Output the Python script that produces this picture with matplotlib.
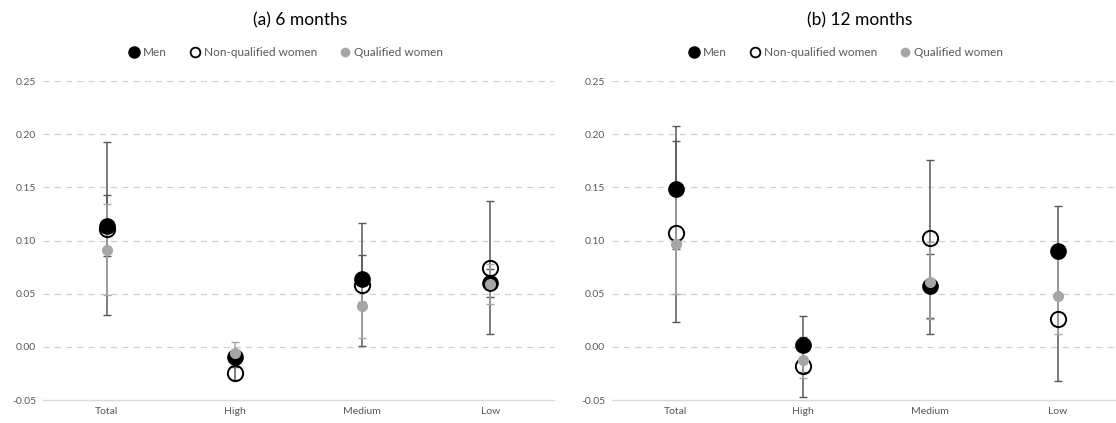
import numpy as np
import matplotlib
matplotlib.use("Agg")
from matplotlib import pyplot as plt
from matplotlib.lines import Line2D

plt.rcParams['font.family'] = ['Lato', 'DejaVu Sans']

categories = ["Total", "High", "Medium", "Low"]
series_names = ["Men", "Non-qualified women", "Qualified women"]

# (a) 6 months: point estimate, lower and upper bound
men_6 = [0.114, -0.010, 0.064, 0.060]
men_6_lo = [0.085, -0.016, 0.042, 0.047]
men_6_hi = [0.143, -0.004, 0.086, 0.073]
nq_6 = [0.111, -0.025, 0.058, 0.074]
nq_6_lo = [0.030, -0.031, 0.001, 0.012]
nq_6_hi = [0.193, -0.019, 0.116, 0.137]
q_6 = [0.091, -0.006, 0.038, 0.059]
q_6_lo = [0.049, -0.017, 0.008, 0.040]
q_6_hi = [0.134, 0.005, 0.068, 0.078]

# (b) 12 months
men_12 = [0.148, 0.002, 0.057, 0.090]
men_12_lo = [0.092, -0.024, 0.027, 0.048]
men_12_hi = [0.208, 0.029, 0.087, 0.132]
nq_12 = [0.107, -0.018, 0.102, 0.026]
nq_12_lo = [0.023, -0.047, 0.012, -0.032]
nq_12_hi = [0.194, 0.009, 0.176, 0.084]
q_12 = [0.097, -0.012, 0.061, 0.048]
q_12_lo = [0.050, -0.029, 0.026, 0.012]
q_12_hi = [0.146, 0.005, 0.099, 0.084]

yticks = [-0.05, 0.00, 0.05, 0.10, 0.15, 0.20, 0.25]

TXT = "#595959"
DARK = "#595959"
LIGHT = "#a6a6a6"

W, H = 1116, 423
fig = plt.figure(figsize=(W / 100, H / 100), dpi=100)


def errs(v, lo, hi):
    v, lo, hi = np.array(v), np.array(lo), np.array(hi)
    return [v - lo, hi - v]


def panel(rect, xmax, title, xc, data):
    ax = fig.add_axes(rect)
    x = np.arange(len(categories))
    (m, mlo, mhi), (n, nlo, nhi), (q, qlo, qhi) = data

    # error bars first, markers on top
    ax.errorbar(x, m, yerr=errs(m, mlo, mhi), fmt="none", ecolor=DARK,
                elinewidth=1.1, capsize=3, zorder=2)
    ax.errorbar(x, n, yerr=errs(n, nlo, nhi), fmt="none", ecolor=DARK,
                elinewidth=1.1, capsize=3, zorder=2)
    ax.errorbar(x, q, yerr=errs(q, qlo, qhi), fmt="none", ecolor=LIGHT,
                elinewidth=1.1, capsize=3, zorder=2.5)
    ax.plot(x, m, ls="", marker="o", markersize=11, markerfacecolor="black",
            markeredgecolor="black", zorder=3)
    ax.plot(x, n, ls="", marker="o", markersize=11, markerfacecolor="none",
            markeredgecolor="black", markeredgewidth=1.4, zorder=4)
    ax.plot(x, q, ls="", marker="o", markersize=7, markerfacecolor=LIGHT,
            markeredgecolor=LIGHT, zorder=5)

    ax.set_xlim(-0.5, xmax)
    ax.set_ylim(-0.05, 0.25)
    ax.set_yticks(yticks)
    ax.set_yticklabels(["%.2f" % t for t in yticks])
    ax.set_xticks(x)
    ax.set_xticklabels(categories)
    ax.tick_params(length=0, labelsize=7.5, colors=TXT, pad=5)
    for t in yticks[1:]:
        ax.axhline(t, color="#d0d0d0", lw=0.9, ls=(0, (5, 4)), zorder=0)
    for s in ["top", "right", "left"]:
        ax.spines[s].set_visible(False)
    ax.spines["bottom"].set_color("#d9d9d9")
    ax.spines["bottom"].set_linewidth(1.0)

    fig.text(xc, 1 - 20 / H, title, ha="center", va="center", fontsize=12.5, color="black")
    handles = [
        Line2D([], [], ls="", marker="o", markersize=8, markerfacecolor="black", markeredgecolor="black"),
        Line2D([], [], ls="", marker="o", markersize=7, markerfacecolor="none", markeredgecolor="black", markeredgewidth=1.3),
        Line2D([], [], ls="", marker="o", markersize=6, markerfacecolor=LIGHT, markeredgecolor=LIGHT),
    ]
    leg = fig.legend(handles, series_names, loc="center", bbox_to_anchor=(xc - 0.013, 1 - 53 / H),
                     ncol=3, frameon=False, fontsize=8.5, handletextpad=0.25,
                     columnspacing=1.9, handlelength=1.0)
    for t in leg.get_texts():
        t.set_color(TXT)
    return ax


bottom = 1 - 400 / H
height = (400 - 81) / H
panel([43 / W, bottom, (554 - 43) / W, height], 3.5, "(a) 6 months", 300 / W,
      [(men_6, men_6_lo, men_6_hi), (nq_6, nq_6_lo, nq_6_hi), (q_6, q_6_lo, q_6_hi)])
panel([612 / W, bottom, (1116 - 612) / W, height], (1116 - 612) / 127.3 - 0.5, "(b) 12 months", 860 / W,
      [(men_12, men_12_lo, men_12_hi), (nq_12, nq_12_lo, nq_12_hi), (q_12, q_12_lo, q_12_hi)])

fig.savefig("out.png", dpi=100)
